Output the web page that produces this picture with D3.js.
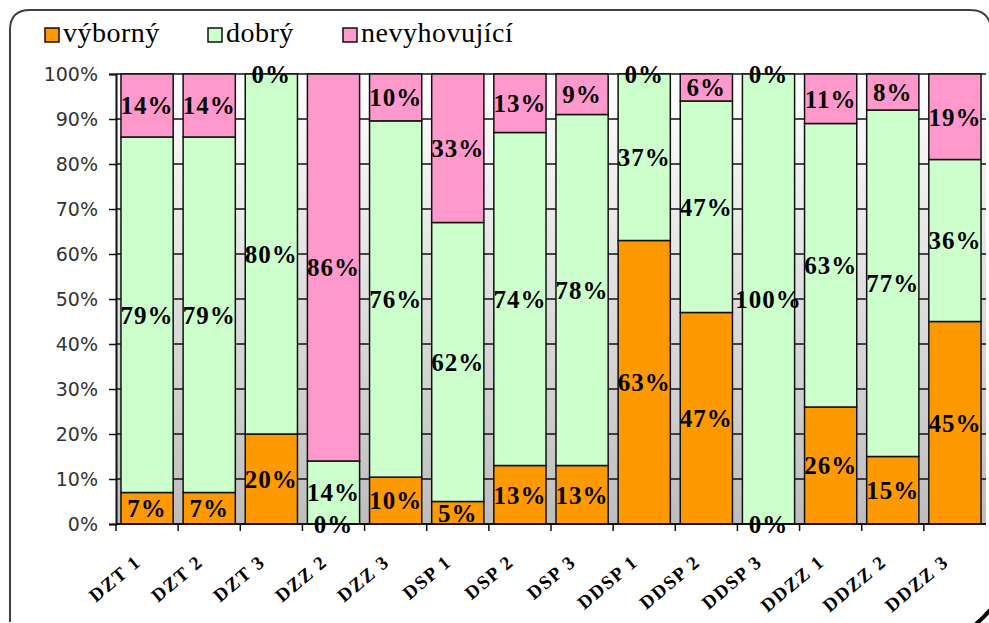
<!DOCTYPE html>
<html>
<head>
<meta charset="utf-8">
<script src="https://cdn.jsdelivr.net/npm/d3@7"></script>
<style>
  body { margin: 0; background: #fff; }
  svg { display: block; }
</style>
</head>
<body>
<div id="container"></div>
<script>
var categories = ["DZT 1", "DZT 2", "DZT 3", "DZZ 2", "DZZ 3", "DSP 1", "DSP 2", "DSP 3",
    "DDSP 1", "DDSP 2", "DDSP 3", "DDZZ 1", "DDZZ 2", "DDZZ 3"];
var vyborny = [7, 7, 20, 0, 10, 5, 13, 13, 63, 47, 0, 26, 15, 45];
var dobry = [79, 79, 80, 14, 76, 62, 74, 78, 37, 47, 100, 63, 77, 36];
var nevyhovujici = [14, 14, 0, 86, 10, 33, 13, 9, 0, 6, 0, 11, 8, 19];
var seriesNames = ["výborný", "dobrý", "nevyhovující"];
var yTicks = [0, 0.1, 0.2, 0.3, 0.4, 0.5, 0.6, 0.7, 0.8, 0.9, 1];

var colors = ["#ff9900", "#ccffcc", "#ff99cc"];
var serif = "'Liberation Serif', 'Times New Roman', Times, serif";
var W = 989, H = 623;
var plot = { left: 116, right: 986, top: 74, bottom: 524 };

var svg = d3.select("#container").append("svg")
    .attr("width", W)
    .attr("height", H);

var defs = svg.append("defs");
var grad = defs.append("linearGradient")
    .attr("id", "bg")
    .attr("x1", 0).attr("y1", 0).attr("x2", 0).attr("y2", 1);
grad.append("stop").attr("offset", "0%").attr("stop-color", "#ffffff");
grad.append("stop").attr("offset", "100%").attr("stop-color", "#bdbdbd");

// outer frame
svg.append("path")
    .attr("d", "M10,622 L10,30 Q10,10 30,10 L970,10 Q990,10 991,30")
    .attr("fill", "none")
    .attr("stroke", "#404040")
    .attr("stroke-width", 2);
svg.append("path")
    .attr("d", "M976,624 Q984,617 990,610")
    .attr("fill", "none")
    .attr("stroke", "#000")
    .attr("stroke-width", 4);

var x = d3.scaleBand()
    .domain(categories)
    .range([plot.left, plot.right])
    .paddingInner(0.16)
    .paddingOuter(0.08);

var y = d3.scaleLinear()
    .domain([0, 1])
    .range([plot.bottom, plot.top]);

// plot background
svg.append("rect")
    .attr("x", plot.left)
    .attr("y", plot.top)
    .attr("width", plot.right - plot.left)
    .attr("height", plot.bottom - plot.top)
    .attr("fill", "url(#bg)");

// gridlines
svg.append("g")
    .selectAll("line")
    .data(yTicks.slice(1))
    .join("line")
    .attr("x1", plot.left)
    .attr("x2", plot.right)
    .attr("y1", d => y(d))
    .attr("y2", d => y(d))
    .attr("stroke", "#111")
    .attr("stroke-width", 1.5);

// stacked data, normalised to 100%
var rows = categories.map((c, i) => {
    var total = vyborny[i] + dobry[i] + nevyhovujici[i];
    return {
        cat: c,
        raw: [vyborny[i], dobry[i], nevyhovujici[i]],
        s0: vyborny[i] / total,
        s1: dobry[i] / total,
        s2: nevyhovujici[i] / total
    };
});
var stack = d3.stack().keys(["s0", "s1", "s2"]);
var stacked = stack(rows);

var bars = svg.append("g");
stacked.forEach((layer, si) => {
    bars.selectAll("rect.s" + si)
        .data(layer)
        .join("rect")
        .attr("class", "s" + si)
        .attr("x", d => x(d.data.cat))
        .attr("width", x.bandwidth())
        .attr("y", d => y(d[1]))
        .attr("height", d => y(d[0]) - y(d[1]))
        .attr("fill", colors[si])
        .attr("stroke", d => (d[1] - d[0]) > 0 ? "#111" : "none")
        .attr("stroke-width", 1.5);
});

// axes
var yAxis = svg.append("g")
    .attr("transform", `translate(${plot.left},0)`)
    .call(d3.axisLeft(y).tickValues(yTicks).tickFormat(d3.format(".0%")).tickSize(7).tickPadding(11));
yAxis.select(".domain").attr("stroke", "#111").attr("stroke-width", 2);
yAxis.selectAll(".tick line").attr("stroke", "#111").attr("stroke-width", 1.5);
yAxis.selectAll("text")
    .style("font-family", "'DejaVu Sans', Verdana, sans-serif")
    .style("font-size", "19px")
    .attr("fill", "#333");

var xAxisG = svg.append("g")
    .attr("transform", `translate(0,${plot.bottom})`);
xAxisG.append("line")
    .attr("x1", plot.left).attr("x2", plot.right)
    .attr("stroke", "#111").attr("stroke-width", 2);
var step = x.step();
xAxisG.selectAll("line.tk")
    .data(d3.range(categories.length))
    .join("line")
    .attr("class", "tk")
    .attr("x1", i => x(categories[i]) - step * 0.08)
    .attr("x2", i => x(categories[i]) - step * 0.08)
    .attr("y1", 0).attr("y2", 7)
    .attr("stroke", "#111").attr("stroke-width", 1.5);
xAxisG.selectAll("text")
    .data(categories)
    .join("text")
    .attr("transform", d => `translate(${x(d) + x.bandwidth() / 2 - 5},${40}) rotate(-40)`)
    .attr("text-anchor", "end")
    .style("font-family", serif)
    .style("font-weight", "bold")
    .style("font-size", "19px")
    .style("letter-spacing", "1.5px")
    .text(d => d);

// value labels
var labels = svg.append("g")
    .style("font-family", serif)
    .style("font-weight", "bold")
    .style("font-size", "25px")
    .style("letter-spacing", "1px")
    .attr("fill", "#000")
    .attr("text-anchor", "middle");
stacked.forEach((layer, si) => {
    labels.selectAll("text.l" + si)
        .data(layer)
        .join("text")
        .attr("class", "l" + si)
        .attr("x", d => x(d.data.cat) + x.bandwidth() / 2)
        .attr("y", d => y((d[0] + d[1]) / 2))
        .attr("dy", "0.35em")
        .text(d => d.data.raw[si] + "%");
});

// legend
var legend = svg.append("g")
    .attr("transform", "translate(45,28)");
var legendX = [0, 163, 298];
seriesNames.forEach((name, i) => {
    var g = legend.append("g").attr("transform", `translate(${legendX[i]},0)`);
    g.append("rect")
        .attr("width", 14).attr("height", 14)
        .attr("fill", colors[i])
        .attr("stroke", "#111").attr("stroke-width", 1.5);
    g.append("text")
        .attr("x", 18).attr("y", 14)
        .style("font-family", serif)
        .style("font-size", "28px")
        .style("letter-spacing", "0.5px")
        .attr("fill", "#000")
        .text(name);
});
</script>
</body>
</html>
